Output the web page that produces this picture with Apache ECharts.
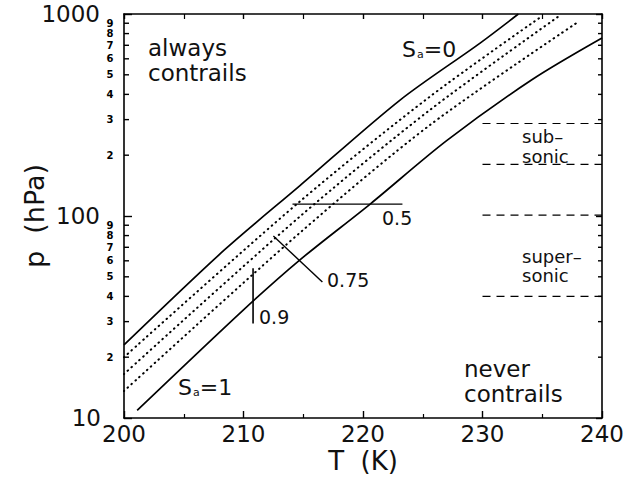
<!DOCTYPE html>
<html><head><meta charset="utf-8">
<script src="https://cdn.jsdelivr.net/npm/echarts@6/dist/echarts.min.js"></script>
<style>html,body{margin:0;padding:0;background:#fff}#c{width:626px;height:479px}</style>
</head><body><div id="c"></div>
<script>
// ---- data ----
const tempRange = [200, 240];              // T (K)
const pRange = [10, 1000];                 // p (hPa), log scale
const minorTickValues = [20,30,40,50,60,70,80,90,200,300,400,500,600,700,800,900];
const minorTickLabels = ['2','3','4','5','6','7','8','9','2','3','4','5','6','7','8','9'];

// threshold curves [T, p]
const curveS0  = [[200,23.0],[208.4,67.9],[214.7,141],[223.1,375],[229.8,718],[233.0,1000]];
const curve05  = [[200,20.0],[214.7,117.8],[225.6,390],[235.0,978]];
const curve075 = [[200,16.5],[214.7,99.2],[225.6,335],[236.6,995]];
const curve09  = [[200,13.6],[214.7,82.4],[225.6,282],[238.1,922]];
const curveS1  = [[201.1,10.9],[210.0,34.3],[214.7,60.5],[220.6,114.6],[227.0,236],[234.1,471],[240,760]];

// flight level bands (dashed), T from 230 to 240
const flightLevels = [287, 180, 101, 40];
const flightBandT = [230, 240];

// leader lines for the 0.5 / 0.75 / 0.9 labels
const leader05  = [[214.1,114.6],[223.3,114.6]];
const leader075 = [[212.5,79.6],[216.6,47.1]];
const leader09  = [[210.8,55.1],[210.8,29.4]];

// ---- chart ----
const FONT = 'DejaVu Sans';
const chart = echarts.init(document.getElementById('c'), null, {renderer:'svg'});

const solid = {color:'#000', width:1.7};
const dotted = {color:'#000', width:2, type:[0.6,4.6], cap:'round'};

function lineSeries(data, style, smooth){
  return {type:'line', data, symbol:'none', smooth: smooth ? 0.3 : false,
          lineStyle: style, silent:true, animation:false, clip:true};
}

const series = [
  lineSeries(curveS0, solid, true),
  lineSeries(curve05, dotted, true),
  lineSeries(curve075, dotted, true),
  lineSeries(curve09, dotted, true),
  lineSeries(curveS1, solid, true),
  lineSeries(leader05, {color:'#000', width:1.2}),
  lineSeries(leader075, {color:'#000', width:1.4}),
  lineSeries(leader09, {color:'#000', width:1.6}),
];
flightLevels.forEach(p => {
  series.push(lineSeries(flightBandT.map(t => [t, p]), {color:'#000', width:1.2, type:[8,6]}));
});
series.push({
  type:'custom', silent:true, animation:false, clip:false, z:5,
  data: minorTickValues.map((v,i) => [tempRange[0], v, i]),
  encode:{x:0, y:1},
  renderItem(params, api){
    const v = api.value(1), i = api.value(2);
    const L = api.coord([tempRange[0], v]);
    const R = api.coord([tempRange[1], v]);
    return {type:'group', children:[
      {type:'line', shape:{x1:L[0], y1:L[1], x2:L[0]+5, y2:L[1]}, style:{stroke:'#000', lineWidth:1.4}},
      {type:'line', shape:{x1:R[0]-4, y1:R[1], x2:R[0], y2:R[1]}, style:{stroke:'#000', lineWidth:1.4}},
      {type:'text', x:L[0]-14, y:L[1], style:{text:minorTickLabels[i], fontSize:10, fontWeight:'bold',
        fontFamily:FONT, fill:'#000', align:'center', verticalAlign:'middle'}}
    ]};
  }
});

const axisLine = {show:true, lineStyle:{color:'#000', width:1.6}};
const txt = (s, left, top, size, lh, extra) => ({type:'text', left, top, silent:true,
  style:Object.assign({text:s, fontSize:size, fontFamily:FONT, fill:'#111', lineHeight:lh}, extra||{})});
const subRich = {m:{fontSize:22, fontFamily:FONT, lineHeight:22}, s:{fontSize:11, fontFamily:FONT, lineHeight:11, verticalAlign:'bottom', padding:[0,0,0,1]}};

chart.setOption({
  animation:false,
  backgroundColor:'#fff',
  grid:{left:124, right:24, top:14, bottom:61, outerBoundsMode:'none', containLabel:false},
  xAxis:[
    {type:'value', position:'bottom', min:tempRange[0], max:tempRange[1], interval:10,
     axisLine, axisTick:{inside:true, length:7, lineStyle:{color:'#000', width:1.4}},
     minorTick:{show:true, splitNumber:2, length:4, lineStyle:{color:'#000', width:1.2}},
     splitLine:{show:false},
     axisLabel:{fontSize:23, color:'#111', fontFamily:FONT, margin:4, lineHeight:23},
     name:'T  (K)', nameLocation:'middle', nameGap:30, nameMoveOverlap:false,
     nameTextStyle:{fontSize:26, color:'#111', fontFamily:FONT, lineHeight:26}},
    {type:'value', position:'top', min:tempRange[0], max:tempRange[1], interval:10,
     axisLine, axisTick:{inside:true, length:5, lineStyle:{color:'#000', width:1.4}},
     minorTick:{show:true, splitNumber:2, length:5, lineStyle:{color:'#000', width:1.2}},
     splitLine:{show:false}, axisLabel:{show:false}}
  ],
  yAxis:[
    {type:'log', logBase:10, position:'left', min:pRange[0], max:pRange[1],
     axisLine, axisTick:{inside:true, length:8, lineStyle:{color:'#000', width:1.4}},
     splitLine:{show:false},
     axisLabel:{margin:17, color:'#111', fontFamily:FONT,
       formatter: v => Math.round(v) === 10 ? '{low|10}' : '{hi|' + Math.round(v) + '}',
       rich:{low:{fontSize:23, fontFamily:FONT, color:'#111', padding:[0,6,0,0]},
             hi:{fontSize:23, fontFamily:FONT, color:'#111', padding:[0,7,0,0]}}},
     name:'p  (hPa)', nameLocation:'middle', nameGap:76, nameRotate:90, nameMoveOverlap:false,
     nameTextStyle:{fontSize:27, color:'#111', fontFamily:FONT}},
    {type:'log', logBase:10, position:'right', min:pRange[0], max:pRange[1],
     axisLine, axisTick:{inside:true, length:6, lineStyle:{color:'#000', width:1.4}},
     splitLine:{show:false}, axisLabel:{show:false}}
  ],
  series,
  graphic:[
    txt('always\ncontrails', 148, 35, 23, 25),
    txt('never\ncontrails', 464, 356, 23, 25),
    {type:'text', left:402, top:38, silent:true, style:{text:'{m|S}{s|a}{m|=0}', fontFamily:FONT, fill:'#111', rich:subRich}},
    {type:'text', left:178, top:376, silent:true, style:{text:'{m|S}{s|a}{m|=1}', fontFamily:FONT, fill:'#111', rich:subRich}},
    txt('sub\u2013\nsonic', 522, 126, 18, 20),
    txt('super\u2013\nsonic', 522, 247, 18, 19),
    txt('0.5', 382, 207, 19, 22),
    txt('0.75', 327, 269, 19, 22),
    txt('0.9', 259, 306, 19, 22)
  ]
});
</script></body></html>
